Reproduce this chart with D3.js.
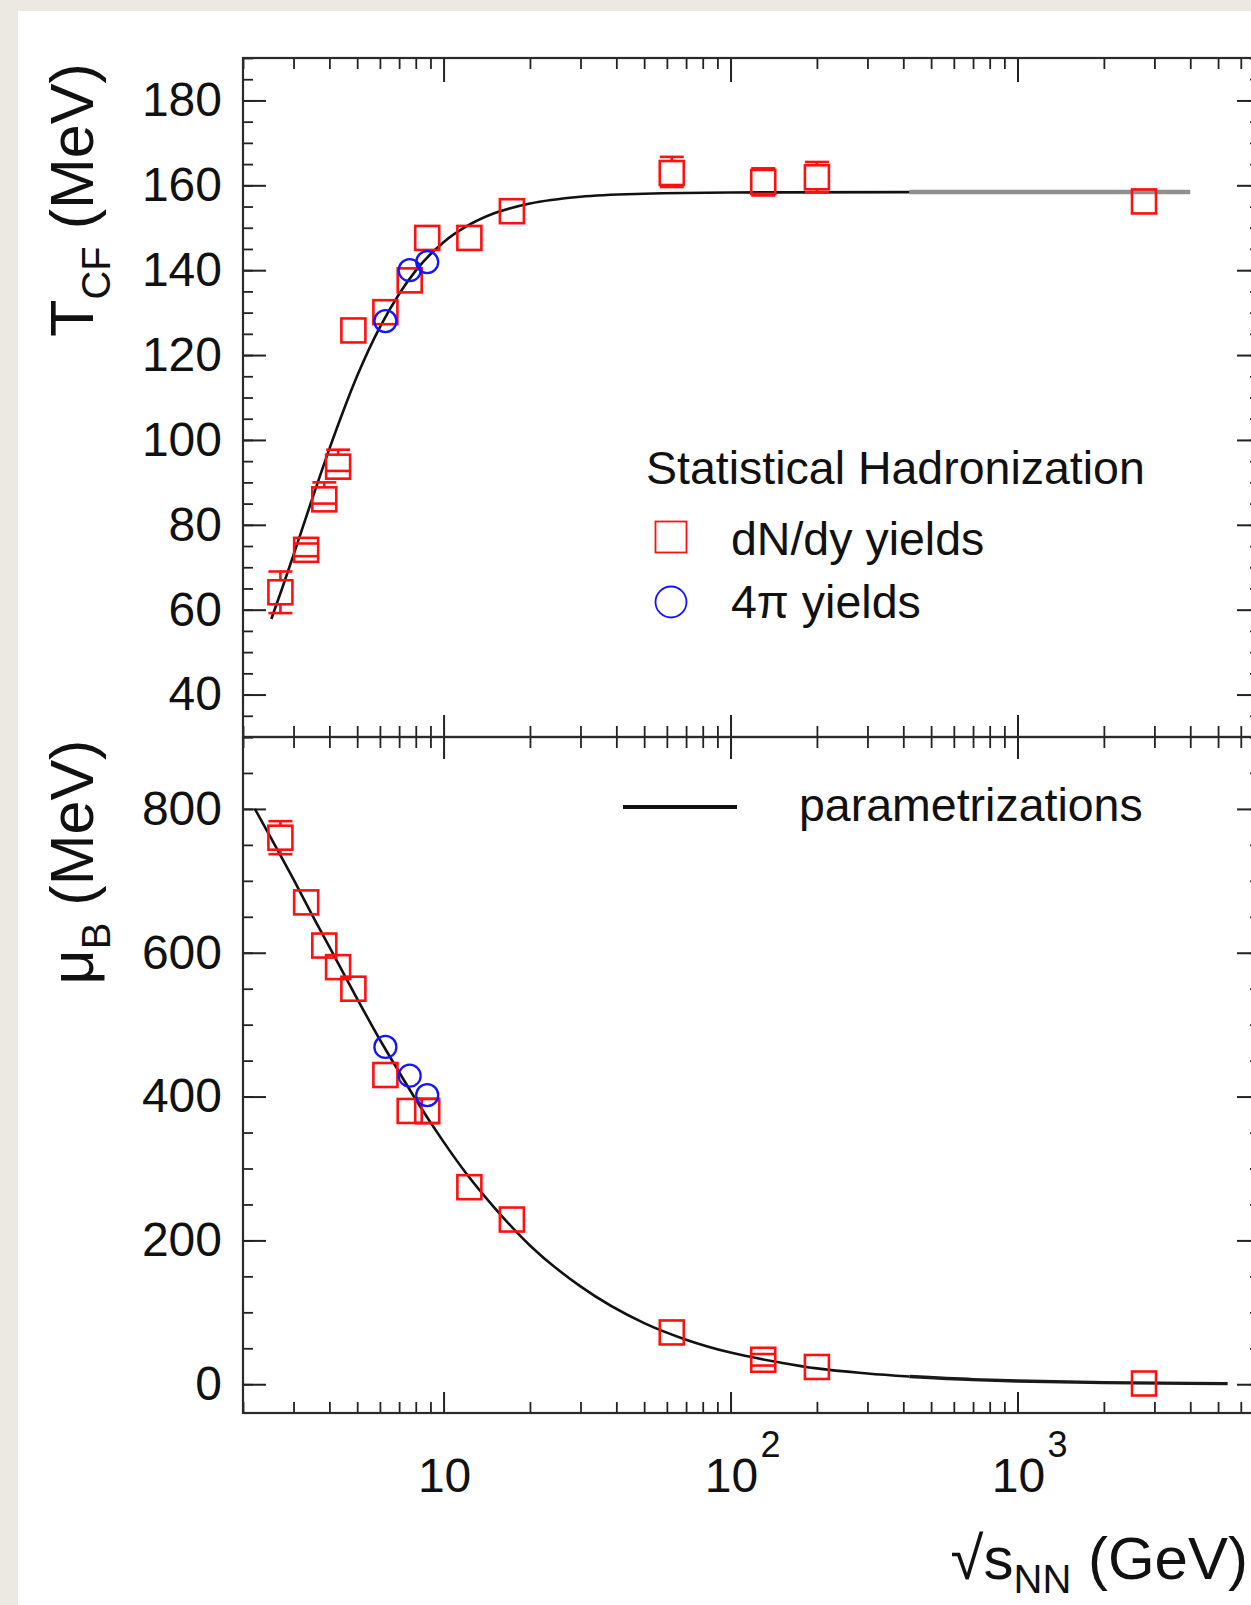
<!DOCTYPE html>
<html>
<head>
<meta charset="utf-8">
<script src="https://cdn.jsdelivr.net/npm/d3@7"></script>
<style>
  body { margin: 0; background: #ece9e3; }
  svg { display: block; }
</style>
</head>
<body>
<svg id="chart"></svg>
<script>
// ---- data ----
// collision energies (GeV)
const energies = [2.70, 3.32, 3.84, 4.29, 4.85, 6.27, 7.62, 8.77, 12.3, 17.3, 62.4, 130, 200, 2760];
// T_CF from dN/dy yields (MeV) and error bars
const tDNdy   = [64.1, 74.1, 86.0, 93.7, 125.8, 130.1, 137.6, 147.6, 147.6, 153.9, 162.9, 160.8, 161.9, 156.2];
const tErrHi  = [4.9, 1.5, 4.0, 4.0, 0, 0, 0, 0, 0, 0, 3.8, 3.2, 3.6, 0];
const tErrLo  = [4.9, 1.5, 1.0, 1.0, 0, 0, 0, 0, 0, 0, 3.3, 3.2, 3.5, 0];
// mu_B from dN/dy yields (MeV)
const muDNdy  = [760, 670, 610, 580, 550, 430, 380, 380, 274, 229, 72, 34, 24, 1];
const muErr   = [23, 0, 0, 0, 0, 0, 0, 17, 0, 0, 0, 8, 0, 0];
// 4pi yields
const energies4pi = [6.27, 7.62, 8.77];
const t4pi  = [128.0, 140.0, 141.9];
const mu4pi = [469, 429, 402];

// parametrization curves
const tCurveX  = [2.51, 2.75, 3, 3.5, 4, 4.5, 5, 6, 7, 8, 10, 12, 15, 20, 30, 50, 100, 420];
const tCurveY  = [57.8, 65.4, 72.9, 86.5, 97.9, 107.3, 115.1, 126.6, 134.4, 139.9, 146.6, 150.3, 153.4, 155.7, 157.3, 158.0, 158.3, 158.4];
const tExtX    = [420, 4000];
const tExtY    = [158.4, 158.4];
const muCurveX = [2.2, 2.5, 3, 3.5, 4, 5, 6, 7, 8, 10, 12, 15, 20, 30, 50, 70, 100, 150, 200, 300, 420];
const muCurveY = [800, 760, 702, 651, 608, 536, 479, 434, 396, 337, 293, 246, 193, 136, 85, 62, 44, 30, 22, 15, 10.7];
const muExtX   = [420, 700, 1000, 2000, 5400];
const muExtY   = [10.7, 6.4, 4.5, 2.3, 0.8];

// axis ticks and labels
const tMajor  = [40, 60, 80, 100, 120, 140, 160, 180];
const muMajor = [0, 200, 400, 600, 800];
const xMajor  = [10, 100, 1000];
const xLabelBase = ['10', '10', '10'];
const xLabelExp  = ['', '2', '3'];

// ---- drawing ----
const FONT = '"Liberation Sans", Arial, Helvetica, sans-serif';
const W = 1251, H = 1605;
const frame = { left: 243, right: 1260, top: 58, mid: 737, bottom: 1413 };

const svg = d3.select('#chart').attr('width', W).attr('height', H);

// photographed page: beige surround, white sheet
svg.append('rect').attr('width', W).attr('height', H).attr('fill', '#ece9e3');
svg.append('rect').attr('x', 18).attr('y', 11).attr('width', W - 18).attr('height', H - 11).attr('fill', '#ffffff');

const x = d3.scaleLog().domain([2, 7000]).range([frame.left, frame.right]);
const yT = d3.scaleLinear().domain([30, 190]).range([frame.mid, frame.top]);
const yMu = d3.scaleLinear().domain([-40, 900]).range([frame.bottom, frame.mid]);

const xMinor = x.ticks().filter(d => !xMajor.includes(d));
const tMinor = d3.range(30, 191, 5);
const muMinor = d3.range(0, 901, 50);

function styleAxis(g, width) {
  g.select('.domain').remove();
  g.selectAll('line').attr('stroke', '#222').attr('stroke-width', width);
  g.selectAll('text')
    .attr('font-family', FONT)
    .attr('font-size', 48)
    .attr('fill', '#111');
}

function addAxis(axis, tx, ty, width) {
  const g = svg.append('g').attr('transform', `translate(${tx},${ty})`).call(axis);
  styleAxis(g, width);
  return g;
}

// y axes, left (labelled) and right (mirror)
addAxis(d3.axisLeft(yT).tickValues(tMinor).tickSizeInner(-10).tickSizeOuter(0).tickFormat(''), frame.left, 0, 1.8);
addAxis(d3.axisLeft(yT).tickValues(tMajor).tickSizeInner(-23).tickSizeOuter(0).tickPadding(21).tickFormat(d3.format('d')), frame.left, 0, 2);
addAxis(d3.axisLeft(yMu).tickValues(muMinor).tickSizeInner(-10).tickSizeOuter(0).tickFormat(''), frame.left, 0, 1.8);
addAxis(d3.axisLeft(yMu).tickValues(muMajor).tickSizeInner(-23).tickSizeOuter(0).tickPadding(21).tickFormat(d3.format('d')), frame.left, 0, 2);

addAxis(d3.axisRight(yT).tickValues(tMinor).tickSizeInner(-10).tickSizeOuter(0).tickFormat(''), frame.right, 0, 1.8);
addAxis(d3.axisRight(yT).tickValues(tMajor).tickSizeInner(-23).tickSizeOuter(0).tickFormat(''), frame.right, 0, 2);
addAxis(d3.axisRight(yMu).tickValues(muMinor).tickSizeInner(-10).tickSizeOuter(0).tickFormat(''), frame.right, 0, 1.8);
addAxis(d3.axisRight(yMu).tickValues(muMajor).tickSizeInner(-23).tickSizeOuter(0).tickFormat(''), frame.right, 0, 2);

// x axes: top, shared middle (both ways), bottom
addAxis(d3.axisTop(x).tickValues(xMinor).tickSizeInner(-11).tickSizeOuter(0).tickFormat(''), 0, frame.top, 1.8);
addAxis(d3.axisTop(x).tickValues(xMajor).tickSizeInner(-24).tickSizeOuter(0).tickFormat(''), 0, frame.top, 2);
addAxis(d3.axisBottom(x).tickValues(xMinor).tickSizeInner(-11).tickSizeOuter(0).tickFormat(''), 0, frame.mid, 1.8);
addAxis(d3.axisBottom(x).tickValues(xMajor).tickSizeInner(-22).tickSizeOuter(0).tickFormat(''), 0, frame.mid, 2);
addAxis(d3.axisTop(x).tickValues(xMinor).tickSizeInner(-11).tickSizeOuter(0).tickFormat(''), 0, frame.mid, 1.8);
addAxis(d3.axisTop(x).tickValues(xMajor).tickSizeInner(-22).tickSizeOuter(0).tickFormat(''), 0, frame.mid, 2);
addAxis(d3.axisBottom(x).tickValues(xMinor).tickSizeInner(-11).tickSizeOuter(0).tickFormat(''), 0, frame.bottom, 1.8);
addAxis(d3.axisBottom(x).tickValues(xMajor).tickSizeInner(-21).tickSizeOuter(0).tickFormat(''), 0, frame.bottom, 2);

// x tick labels with exponents
const xLab = svg.append('g').attr('font-family', FONT).attr('fill', '#111');
xMajor.forEach((v, i) => {
  xLab.append('text')
    .attr('x', x(v) + 1).attr('y', 1492)
    .attr('text-anchor', 'middle').attr('font-size', 48)
    .text(xLabelBase[i]);
  if (xLabelExp[i]) {
    xLab.append('text')
      .attr('x', x(v) + 30).attr('y', 1457)
      .attr('font-size', 36)
      .text(xLabelExp[i]);
  }
});

// frames
[[frame.top, frame.mid], [frame.mid, frame.bottom]].forEach(([y0, y1]) => {
  svg.append('rect')
    .attr('x', frame.left).attr('y', y0)
    .attr('width', frame.right - frame.left).attr('height', y1 - y0)
    .attr('fill', 'none').attr('stroke', '#2a2a2a').attr('stroke-width', 2.2);
});

// axis titles
const titles = svg.append('g').attr('font-family', FONT).attr('fill', '#111');
const tTitle = titles.append('text')
  .attr('transform', 'translate(93,200) rotate(-90)')
  .attr('text-anchor', 'middle').attr('font-size', 61);
tTitle.append('tspan').text('T');
tTitle.append('tspan').attr('font-size', 40).attr('dy', 17).text('CF');
tTitle.append('tspan').attr('dy', -17).text(' (MeV)');

const muTitle = titles.append('text')
  .attr('transform', 'translate(93,862) rotate(-90)')
  .attr('text-anchor', 'middle').attr('font-size', 61);
muTitle.append('tspan').text('\u03BC');
muTitle.append('tspan').attr('font-size', 40).attr('dy', 17).text('B');
muTitle.append('tspan').attr('dy', -17).text(' (MeV)');

const xTitle = titles.append('text')
  .attr('x', 1248).attr('y', 1579)
  .attr('text-anchor', 'end').attr('font-size', 60);
xTitle.append('tspan').text('\u221As');
xTitle.append('tspan').attr('font-size', 40).attr('dy', 14).text('NN');
xTitle.append('tspan').attr('dy', -14).text(' (GeV)');

// parametrization lines
const curveLine = (ys) => d3.line()
  .x(d => x(d[0]))
  .y(d => ys(d[1]))
  .curve(d3.curveMonotoneX);

svg.append('path')
  .datum(d3.zip(tExtX, tExtY))
  .attr('d', curveLine(yT))
  .attr('fill', 'none').attr('stroke', '#8f8f8f').attr('stroke-width', 4.5);
svg.append('path')
  .datum(d3.zip(tCurveX, tCurveY))
  .attr('d', curveLine(yT))
  .attr('fill', 'none').attr('stroke', '#111').attr('stroke-width', 2.6);
svg.append('path')
  .datum(d3.zip(muCurveX, muCurveY))
  .attr('d', curveLine(yMu))
  .attr('fill', 'none').attr('stroke', '#111').attr('stroke-width', 2.6);
svg.append('path')
  .datum(d3.zip(muExtX, muExtY))
  .attr('d', curveLine(yMu))
  .attr('fill', 'none').attr('stroke', '#1a1a1a').attr('stroke-width', 3.4);

// markers
const RED = '#ff1010', BLUE = '#1414ff';
const SQ = 24;

function drawSquares(vals, ys, errHi, errLo) {
  const g = svg.append('g').attr('stroke', RED).attr('fill', 'none').attr('stroke-width', 2.6);
  const pts = energies.map((e, i) => ({ e, v: vals[i], hi: errHi[i], lo: errLo[i] }));
  g.selectAll('rect').data(pts).join('rect')
    .attr('x', d => x(d.e) - SQ / 2)
    .attr('y', d => ys(d.v) - SQ / 2)
    .attr('width', SQ).attr('height', SQ);
  // error bars with caps
  pts.filter(d => d.hi > 0 || d.lo > 0).forEach(d => {
    const cx = x(d.e), cy = ys(d.v);
    const yHi = ys(d.v + d.hi), yLo = ys(d.v - d.lo);
    if (yHi < cy - SQ / 2) g.append('line').attr('x1', cx).attr('x2', cx).attr('y1', cy - SQ / 2).attr('y2', yHi);
    if (yLo > cy + SQ / 2) g.append('line').attr('x1', cx).attr('x2', cx).attr('y1', cy + SQ / 2).attr('y2', yLo);
    g.append('line').attr('x1', cx - SQ / 2).attr('x2', cx + SQ / 2).attr('y1', yHi).attr('y2', yHi);
    g.append('line').attr('x1', cx - SQ / 2).attr('x2', cx + SQ / 2).attr('y1', yLo).attr('y2', yLo);
  });
}

function drawCircles(vals, ys) {
  svg.append('g').selectAll('circle')
    .data(energies4pi.map((e, i) => ({ e, v: vals[i] })))
    .join('circle')
    .attr('cx', d => x(d.e)).attr('cy', d => ys(d.v)).attr('r', 11)
    .attr('fill', 'none').attr('stroke', BLUE).attr('stroke-width', 2.3);
}

drawSquares(tDNdy, yT, tErrHi, tErrLo);
drawCircles(t4pi, yT);
drawSquares(muDNdy, yMu, muErr, muErr);
drawCircles(mu4pi, yMu);

// legend
const leg = svg.append('g').attr('font-family', FONT).attr('font-size', 46.5).attr('fill', '#111');
leg.append('text').attr('x', 646).attr('y', 484).text('Statistical Hadronization');
leg.append('rect').attr('x', 671 - 15.5).attr('y', 537 - 15.5).attr('width', 31).attr('height', 31)
  .attr('fill', 'none').attr('stroke', RED).attr('stroke-width', 1.8);
leg.append('text').attr('x', 731).attr('y', 555).text('dN/dy yields');
leg.append('circle').attr('cx', 671).attr('cy', 602).attr('r', 15.5)
  .attr('fill', 'none').attr('stroke', BLUE).attr('stroke-width', 1.8);
leg.append('text').attr('x', 731).attr('y', 618).text('4\u03C0 yields');
leg.append('line').attr('x1', 623).attr('x2', 737).attr('y1', 807).attr('y2', 807)
  .attr('stroke', '#111').attr('stroke-width', 4);
leg.append('text').attr('x', 799).attr('y', 821).text('parametrizations');
</script>
</body>
</html>
